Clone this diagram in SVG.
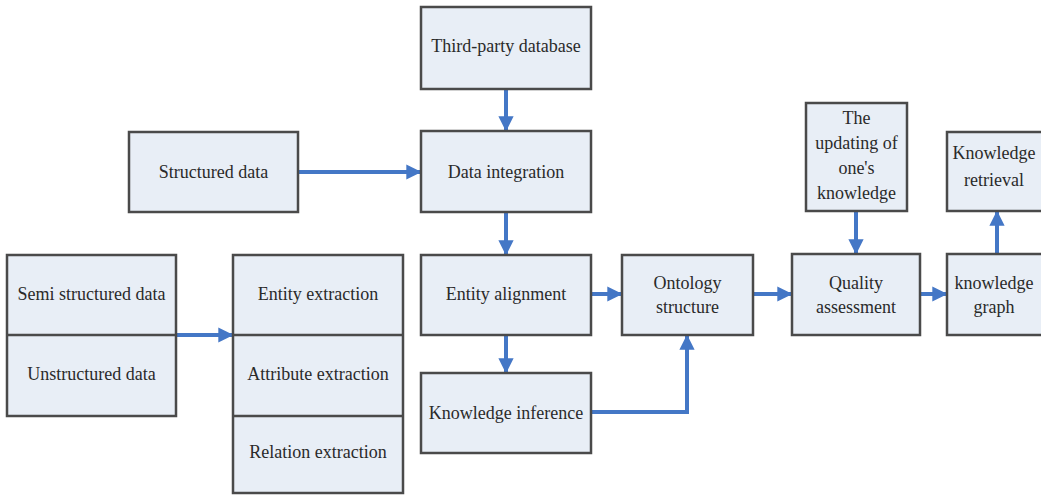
<svg xmlns="http://www.w3.org/2000/svg" width="1041" height="495" viewBox="0 0 1041 495">
<style>
.box{fill:#e8eef6;stroke:#4a4a4a;stroke-width:2.5}
.div{stroke:#4a4a4a;stroke-width:2.5}
.t{font-family:"Liberation Serif","Times New Roman",serif;font-size:18px;fill:#2a2a2a;text-anchor:middle}
.c{fill:none;stroke:#4477c6;stroke-width:4}
</style>
<defs>
<marker id="ah" viewBox="0 0 10 10" refX="9" refY="5" markerWidth="3.8" markerHeight="3.8" orient="auto" markerUnits="strokeWidth">
<path d="M0,0 L10,5 L0,10 z" fill="#4477c6"/>
</marker>
</defs>
<rect width="1041" height="495" fill="#ffffff"/>
<g id="connectors">
<line class="c" x1="298" y1="172" x2="420" y2="172" marker-end="url(#ah)"/>
<line class="c" x1="176" y1="335" x2="232" y2="335" marker-end="url(#ah)"/>
<line class="c" x1="506" y1="89" x2="506" y2="130" marker-end="url(#ah)"/>
<line class="c" x1="506" y1="212" x2="506" y2="254" marker-end="url(#ah)"/>
<line class="c" x1="591" y1="294" x2="621" y2="294" marker-end="url(#ah)"/>
<line class="c" x1="506" y1="335" x2="506" y2="372" marker-end="url(#ah)"/>
<polyline class="c" points="591,412 687,412 687,336" marker-end="url(#ah)"/>
<line class="c" x1="753" y1="294" x2="791" y2="294" marker-end="url(#ah)"/>
<line class="c" x1="856" y1="211" x2="856" y2="253" marker-end="url(#ah)"/>
<line class="c" x1="920" y1="294" x2="946" y2="294" marker-end="url(#ah)"/>
<line class="c" x1="997" y1="254" x2="997" y2="212" marker-end="url(#ah)"/>
</g>
<g id="structured-data">
<rect class="box" x="129" y="132" width="169" height="80"/>
<text class="t" x="213.5" y="178">Structured data</text>
</g>
<g id="semi-unstructured">
<rect class="box" x="7" y="255" width="169" height="161"/>
<line class="div" x1="7" y1="335" x2="176" y2="335"/>
<text class="t" x="91.5" y="300">Semi structured data</text>
<text class="t" x="91.5" y="380">Unstructured data</text>
</g>
<g id="extraction">
<rect class="box" x="233" y="255" width="170" height="238"/>
<line class="div" x1="233" y1="335" x2="403" y2="335"/>
<line class="div" x1="233" y1="416" x2="403" y2="416"/>
<text class="t" x="318" y="300">Entity extraction</text>
<text class="t" x="318" y="380">Attribute extraction</text>
<text class="t" x="318" y="458">Relation extraction</text>
</g>
<g id="third-party">
<rect class="box" x="421" y="7" width="170" height="82"/>
<text class="t" x="506" y="52">Third-party database</text>
</g>
<g id="data-integration">
<rect class="box" x="421" y="131" width="170" height="81"/>
<text class="t" x="506" y="178">Data integration</text>
</g>
<g id="entity-alignment">
<rect class="box" x="421" y="255" width="170" height="80"/>
<text class="t" x="506" y="300">Entity alignment</text>
</g>
<g id="knowledge-inference">
<rect class="box" x="421" y="373" width="170" height="80"/>
<text class="t" x="506" y="419">Knowledge inference</text>
</g>
<g id="ontology">
<rect class="box" x="622" y="255" width="131" height="80"/>
<text class="t" x="687.5" y="289">Ontology</text>
<text class="t" x="687.5" y="313">structure</text>
</g>
<g id="quality">
<rect class="box" x="792" y="254" width="128" height="81"/>
<text class="t" x="856" y="289">Quality</text>
<text class="t" x="856" y="313">assessment</text>
</g>
<g id="updating">
<rect class="box" x="806" y="103" width="101" height="108"/>
<text class="t" x="856.5" y="124">The</text>
<text class="t" x="856.5" y="149">updating of</text>
<text class="t" x="856.5" y="174">one's</text>
<text class="t" x="856.5" y="199">knowledge</text>
</g>
<g id="knowledge-retrieval">
<rect class="box" x="947" y="132" width="100" height="79"/>
<text class="t" x="994" y="159">Knowledge</text>
<text class="t" x="994" y="186">retrieval</text>
</g>
<g id="knowledge-graph">
<rect class="box" x="947" y="254" width="100" height="81"/>
<text class="t" x="994" y="289">knowledge</text>
<text class="t" x="994" y="313">graph</text>
</g>
</svg>
